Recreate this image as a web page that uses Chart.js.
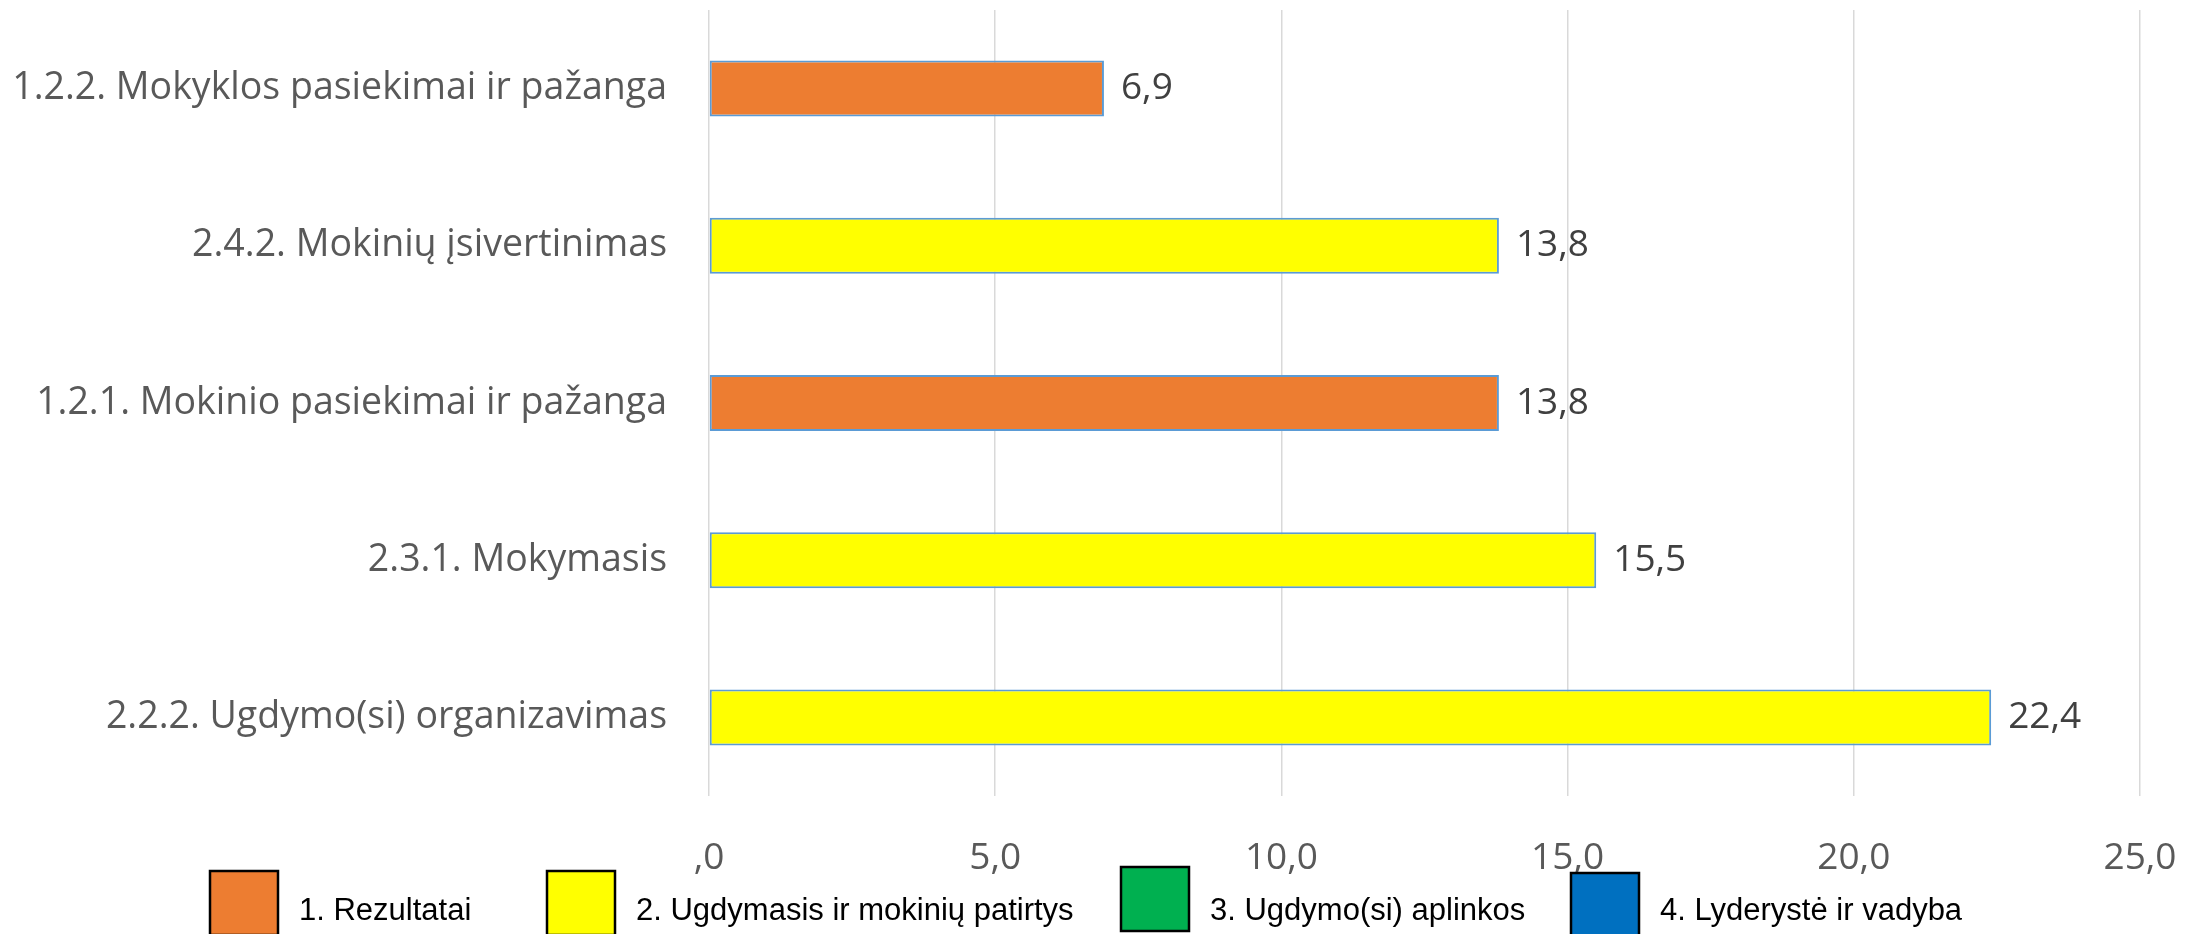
<!DOCTYPE html>
<html>
<head>
<meta charset="utf-8">
<script src="https://cdn.jsdelivr.net/npm/chart.js@4.4.1/dist/chart.umd.min.js"></script>
<style>
  html, body { margin: 0; padding: 0; background: #ffffff; }
  #wrap { width: 2203px; height: 934px; }
</style>
</head>
<body>
<div id="wrap"><canvas id="c" width="2203" height="934"></canvas></div>
<script>
const categories = [
  "1.2.2. Mokyklos pasiekimai ir pažanga",
  "2.4.2. Mokinių įsivertinimas",
  "1.2.1. Mokinio pasiekimai ir pažanga",
  "2.3.1. Mokymasis",
  "2.2.2. Ugdymo(si) organizavimas"
];
const seriesNames = [
  "1. Rezultatai",
  "2. Ugdymasis ir mokinių patirtys",
  "3. Ugdymo(si) aplinkos",
  "4. Lyderystė ir vadyba"
];
const rezultatai = [6.9, null, 13.8, null, null];
const ugdymasis = [null, 13.8, null, 15.5, 22.4];
const aplinkos = [null, null, null, null, null];
const lyderyste = [null, null, null, null, null];
const seriesColors = ["#ED7D31", "#FFFF00", "#00B050", "#0070C0"];
const xTicks = [0, 5, 10, 15, 20, 25];

function fmt(v) {
  const s = Number(v).toFixed(1).replace('.', ',');
  return s.startsWith('0,') ? s.slice(1) : s;
}

const labelPlugin = {
  id: 'valueLabels',
  afterDatasetsDraw(chart) {
    const ctx = chart.ctx;
    ctx.save();
    ctx.font = '37px "Open Sans"';
    ctx.fillStyle = '#404040';
    ctx.textAlign = 'left';
    ctx.textBaseline = 'middle';
    chart.data.datasets.forEach((ds, di) => {
      const meta = chart.getDatasetMeta(di);
      meta.data.forEach((el, i) => {
        const v = ds.data[i];
        if (v === null || v === undefined) return;
        ctx.fillText(fmt(v), el.x + 17, el.y);
      });
    });
    ctx.restore();
  }
};

const legendBoxX = [210, 547, 1121, 1571];
const legendBoxTop = [871, 871, 867, 873];
const legendPlugin = {
  id: 'customLegend',
  afterDraw(chart) {
    const ctx = chart.ctx;
    ctx.save();
    chart.data.datasets.forEach((ds, i) => {
      const x = legendBoxX[i], y = legendBoxTop[i];
      const w = 68, h = 64;
      ctx.fillStyle = ds.backgroundColor;
      ctx.fillRect(x, y, w, h);
      ctx.lineWidth = 2.5;
      ctx.strokeStyle = '#000000';
      ctx.strokeRect(x, y, w, h);
      ctx.font = '31px "Liberation Sans", Arial, sans-serif';
      ctx.fillStyle = '#000000';
      ctx.textAlign = 'left';
      ctx.textBaseline = 'middle';
      ctx.fillText(ds.label, x + w + 21, 911);
    });
    ctx.restore();
  }
};

const seriesData = [rezultatai, ugdymasis, aplinkos, lyderyste];

new Chart(document.getElementById('c'), {
  type: 'bar',
  data: {
    labels: categories,
    datasets: seriesNames.map((name, i) => ({
      label: name,
      data: seriesData[i],
      backgroundColor: seriesColors[i],
      borderColor: '#5B9BD5',
      borderWidth: 2,
      borderSkipped: false,
      barPercentage: 0.356,
      categoryPercentage: 1
    }))
  },
  options: {
    indexAxis: 'y',
    responsive: false,
    animation: false,
    layout: { padding: { left: 0, right: 63, top: 10, bottom: 0 } },
    plugins: {
      legend: { display: false },
      tooltip: { enabled: false }
    },
    scales: {
      y: {
        stacked: true,
        grid: { display: false, drawTicks: false },
        border: { display: false },
        ticks: {
          font: { family: 'Open Sans', size: 37.5 },
          color: '#595959',
          padding: 42
        },
        afterFit(scale) {
          scale.width = 709;
          scale.paddingTop = 0;
          scale.paddingBottom = 0;
        }
      },
      x: {
        stacked: true,
        min: 0,
        max: 25,
        afterBuildTicks(scale) { scale.ticks = xTicks.map(v => ({ value: v })); },
        grid: { color: '#D9D9D9', lineWidth: 1.5, drawTicks: false },
        border: { display: false },
        ticks: {
          font: { family: 'Open Sans', size: 37 },
          color: '#595959',
          padding: 40,
          callback: (v) => fmt(v)
        },
        afterFit(scale) {
          scale.height = 138;
          scale.paddingLeft = 0;
          scale.paddingRight = 0;
        }
      }
    }
  },
  plugins: [labelPlugin, legendPlugin]
});
</script>
</body>
</html>
